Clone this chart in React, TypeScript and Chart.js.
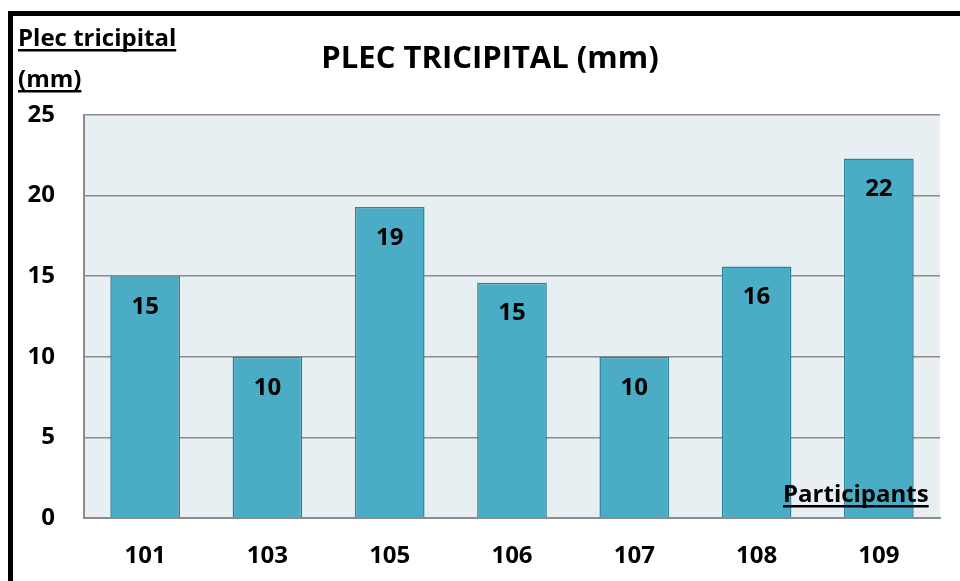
import React, { useEffect, useRef } from "react";
import { Chart, registerables } from "chart.js";

Chart.register(...registerables);

const participants = ["101", "103", "105", "106", "107", "108", "109"];
const skinfold = [15.0, 10.0, 19.3, 14.6, 10.0, 15.6, 22.3];
const yTicks = [0, 5, 10, 15, 20, 25];

const chartTitle = "PLEC TRICIPITAL (mm)";
const yTitleLines = ["Plec tricipital", "(mm)"];
const xTitle = "Participants";

const FONT = "'Open Sans', sans-serif";

function underlinedText(ctx: CanvasRenderingContext2D, text: string, x: number, y: number, font: string) {
  ctx.font = font;
  ctx.textAlign = "left";
  ctx.textBaseline = "alphabetic";
  ctx.fillStyle = "#000";
  ctx.fillText(text, x, y);
  const w = ctx.measureText(text).width;
  ctx.fillRect(x, y + 3, w, 2.5);
}

const decorations = {
  id: "decorations",
  beforeDraw(chart: any) {
    const { ctx, chartArea } = chart;
    ctx.save();
    ctx.fillStyle = "#ffffff";
    ctx.fillRect(0, 0, chart.width, chart.height);
    ctx.fillStyle = "#e8eff3";
    ctx.fillRect(chartArea.left, chartArea.top, chartArea.right - chartArea.left, chartArea.bottom - chartArea.top);
    ctx.restore();
  },
  afterDraw(chart: any) {
    const { ctx } = chart;
    ctx.save();
    // outer frame
    ctx.fillStyle = "#000";
    ctx.fillRect(8, 11, 5, chart.height);
    ctx.fillRect(8, 11, chart.width, 5);

    ctx.font = `bold 31px ${FONT}`;
    ctx.textAlign = "center";
    ctx.textBaseline = "middle";
    ctx.fillText(chartTitle, 490, 59);

    underlinedText(ctx, yTitleLines[0], 18, 46, `bold 24px ${FONT}`);
    underlinedText(ctx, yTitleLines[1], 18, 87, `bold 24px ${FONT}`);
    underlinedText(ctx, xTitle, 783, 502, `bold 24px ${FONT}`);

    // value labels inside bars
    const meta = chart.getDatasetMeta(0);
    ctx.font = `bold 24px ${FONT}`;
    ctx.textAlign = "center";
    ctx.textBaseline = "middle";
    ctx.fillStyle = "#000";
    meta.data.forEach((bar: any, i: number) => {
      ctx.fillText(String(Math.round(skinfold[i])), bar.x, bar.y + 31);
    });
    ctx.restore();
  },
};

export default function App() {
  const ref = useRef<HTMLCanvasElement>(null);
  useEffect(() => {
    if (!ref.current) return;
    const chart = new Chart(ref.current, {
      type: "bar",
      data: {
        labels: participants,
        datasets: [
          {
            data: skinfold,
            backgroundColor: "#4bacc6",
            borderColor: "#31809a",
            borderWidth: 1.5,
            categoryPercentage: 0.57,
            barPercentage: 1,
          },
        ],
      },
      options: {
        animation: false,
        responsive: false,
        devicePixelRatio: 1,
        layout: { padding: { left: 0, top: 115, right: 20, bottom: 0 } },
        plugins: { legend: { display: false }, tooltip: { enabled: false }, title: { display: false } },
        scales: {
          x: {
            grid: { display: false, drawTicks: false },
            border: { display: true, color: "#8c8c8c", width: 2 },
            ticks: { color: "#000", font: { family: FONT, size: 24, weight: "bold" }, padding: 24 },
            afterFit: (s: any) => { s.height = 63; },
          },
          y: {
            min: 0,
            max: 25,
            afterBuildTicks: (s: any) => { s.ticks = yTicks.map((v) => ({ value: v })); },
            grid: { color: "#8c8c8c", lineWidth: 1.5, drawTicks: false },
            border: { display: true, color: "#8c8c8c", width: 2 },
            ticks: { color: "#000", font: { family: FONT, size: 24, weight: "bold" }, padding: 29 },
            afterFit: (s: any) => { s.width = 84; },
          },
        },
      },
      plugins: [decorations],
    });
    return () => chart.destroy();
  }, []);
  return (
    <div style={{ position: "fixed", left: 0, top: 0, width: 960, height: 581 }}>
      <canvas ref={ref} width={960} height={581} style={{ display: "block" }} />
    </div>
  );
}
